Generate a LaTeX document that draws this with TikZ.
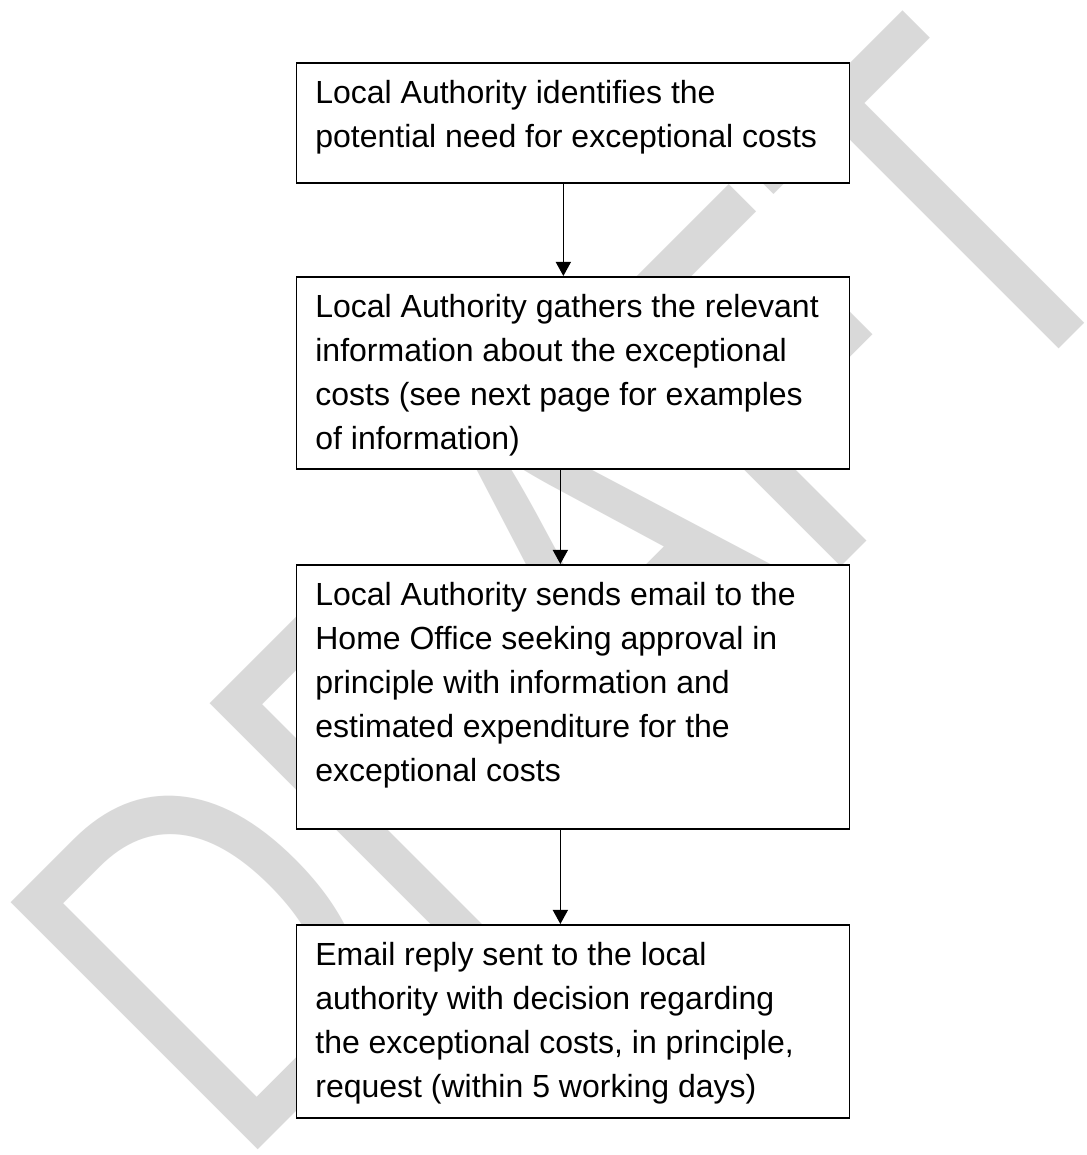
\documentclass[tikz,border=0pt]{standalone}
\usepackage{fontspec}
\setmainfont{Liberation Sans}
\usetikzlibrary{arrows.meta}
\definecolor{wmgray}{RGB}{217,217,217}
\newcommand{\boxtxt}[2]{\parbox[t][#1][t]{515pt}{\raggedright\fontsize{32}{44}\selectfont\strut #2}}
\tikzset{
  flowbox/.style={draw=black, fill=white, line width=1.7pt, inner xsep=19pt, inner ysep=10.2pt, anchor=north west},
  flowarrow/.style={line width=1.4pt, -{Triangle[length=14pt,width=15pt]}},
  wmtext/.style={text=wmgray, inner sep=0pt, anchor=base west, transform shape, font=\fontsize{508}{508}\selectfont}
}
\begin{document}
\begin{tikzpicture}[x=1pt,y=1pt]
\useasboundingbox (0,0) rectangle (1086,1155);
\fill[white] (0,0) rectangle (1086,1155);
\begin{scope}
\clip (0,0) rectangle (1086,1155);
\begin{scope}[shift={(235,-18)}, rotate=45, xscale=0.77]
\node[wmtext] (wm) at (0,0) {DRAFT};
\end{scope}
\end{scope}
\node[flowbox] (b1) at (295.5,1093) {\boxtxt{99.6pt}{Local Authority identifies the\\potential need for exceptional costs}};
\node[flowbox] (b2) at (295.5,879) {\boxtxt{171.6pt}{Local Authority gathers the relevant\\information about the exceptional\\costs (see next page for examples\\of information)}};
\node[flowbox] (b3) at (295.5,591) {\boxtxt{243.6pt}{Local Authority sends email to the\\Home Office seeking approval in\\principle with information and\\estimated expenditure for the\\exceptional costs}};
\node[flowbox] (b4) at (295.5,231) {\boxtxt{172.6pt}{Email reply sent to the local\\authority with decision regarding\\the exceptional costs, in principle,\\request (within 5 working days)}};
\draw[flowarrow] ([xshift=-9.5pt]b1.south) -- ([xshift=-9.5pt]b2.north);
\draw[flowarrow] ([xshift=-12.5pt]b2.south) -- ([xshift=-12.5pt]b3.north);
\draw[flowarrow] ([xshift=-12.5pt]b3.south) -- ([xshift=-12.5pt]b4.north);
\end{tikzpicture}
\end{document}
